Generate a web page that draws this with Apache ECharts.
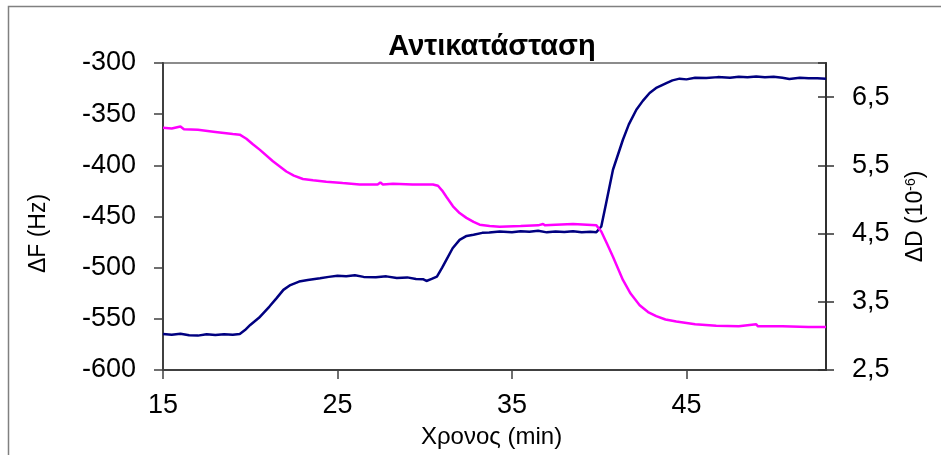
<!DOCTYPE html>
<html>
<head>
<meta charset="utf-8">
<script src="https://cdn.jsdelivr.net/npm/echarts@6/dist/echarts.min.js"></script>
<style>
  html, body { margin: 0; padding: 0; background: #fff; }
  #chart { width: 941px; height: 455px; }
</style>
</head>
<body>
<div id="chart"></div>
<script>
// ΔF (Hz), left axis
const timeF = [15, 15.5, 16, 16.5, 17, 17.5, 18, 18.5, 19, 19.4, 19.7, 20, 20.5, 21.1, 21.5, 21.9, 22.3, 22.8, 23.3, 24,
    24.5, 25, 25.5, 26, 26.5, 27.2, 27.8, 28.4, 29, 29.5, 29.9, 30.1, 30.4, 30.7, 31, 31.24, 31.6, 32, 32.4, 32.8,
    33.3, 33.7, 34.3, 35, 35.5, 36, 36.5, 37, 37.5, 38, 38.5, 39, 39.5, 39.84, 40.12, 40.4, 40.79, 41.36, 41.7, 42.13,
    42.5, 42.89, 43.3, 43.85, 44.2, 44.61, 45, 45.5, 46.14, 46.8, 47.5, 48, 48.5, 49, 49.5, 50, 50.5, 50.9, 51.5, 52,
    52.5, 53]
const valF = [-564.8, -565.5, -564.5, -566, -566.4, -565, -565.8, -565, -565.6, -564.8, -561, -556, -549, -538, -530, -521.7, -517, -513.6, -512, -510.3,
    -509, -507.8, -508.5, -507.5, -509, -509.3, -508.5, -510, -509.5, -511, -511.3, -513, -511, -508.7, -500, -492.4, -481, -472.8, -469, -467.9,
    -466, -465.7, -464.7, -465.5, -464.5, -465, -464, -465.5, -464.7, -465.2, -464.5, -465.5, -465, -465.3, -459.8, -436.9, -404.3, -375, -360, -345.7,
    -337, -329.3, -324, -319.6, -317, -315.3, -316, -314.5, -314.7, -313.8, -314.5, -313.5, -314, -313.1, -314, -313.5, -314.5, -315.6, -314.5, -315,
    -314.8, -315.3]

// ΔD (10^-6), right axis
const timeD = [15, 15.5, 16, 16.2, 17, 18, 19, 19.4, 19.78, 20.15, 20.54, 21.3, 22.07, 22.5, 23.02, 23.6, 24.36, 25.3, 26.27, 27.3,
    27.46, 27.6, 28.18, 29.3, 30.47, 30.76, 31, 31.24, 31.62, 32, 32.39, 32.8, 33.15, 33.72, 34.3, 35.5, 36.5, 36.78, 36.9, 37.5,
    38.5, 39.3, 39.84, 40.12, 40.45, 40.79, 41.36, 41.8, 42.32, 42.8, 43.27, 43.8, 44.42, 45.5, 46.71, 48, 49, 49.1, 50.5, 52, 53]
const valD = [6.05, 6.04, 6.07, 6.03, 6.02, 5.99, 5.96, 5.95, 5.89, 5.81, 5.73, 5.56, 5.41, 5.35, 5.30, 5.28, 5.26, 5.24, 5.22, 5.22,
    5.25, 5.22, 5.23, 5.22, 5.22, 5.20, 5.13, 5.04, 4.90, 4.80, 4.73, 4.67, 4.63, 4.61, 4.60, 4.61, 4.62, 4.64, 4.62, 4.63,
    4.64, 4.63, 4.62, 4.53, 4.35, 4.16, 3.82, 3.62, 3.45, 3.35, 3.29, 3.24, 3.21, 3.17, 3.15, 3.14, 3.17, 3.14, 3.14, 3.13, 3.13]

const FONT = "'Liberation Sans', Arial, sans-serif"

let myChart = echarts.init(document.getElementById("chart"))
let option = {
    animation: false,
    backgroundColor: "#fff",
    title: {
        text: "Αντικατάσταση",
        left: 487,
        top: 27,
        textAlign: "center",
        textStyle: { fontFamily: FONT, fontSize: 29, fontWeight: "bold", color: "#000" }
    },
    graphic: [
        {
            type: "rect",
            shape: { x: 8.5, y: 6.5, width: 960, height: 480 },
            style: { fill: "none", stroke: "#808080", lineWidth: 1.5 },
            silent: true
        }
    ],
    grid: {
        left: 163,
        top: 63,
        width: 663,
        height: 307,
        show: true,
        borderColor: "#8c8c8c",
        borderWidth: 2,
        backgroundColor: "transparent"
    },
    xAxis: {
        type: "value",
        min: 15,
        max: 53,
        interval: 10,
        name: "Χρονος (min)",
        nameLocation: "middle",
        nameGap: 55,
        nameTextStyle: { fontFamily: FONT, fontSize: 24, color: "#000", padding: [0, 6, 0, 0] },
        axisLine: { lineStyle: { color: "#404040", width: 2 } },
        axisTick: { length: 9, lineStyle: { color: "#404040", width: 1.5 } },
        axisLabel: { fontFamily: FONT, fontSize: 27, color: "#000", margin: 22, showMaxLabel: false },
        splitLine: { show: false }
    },
    yAxis: [
        {
            type: "value",
            position: "left",
            min: -600,
            max: -300,
            interval: 50,
            name: "ΔF (Hz)",
            nameLocation: "middle",
            nameGap: 113,
            nameTextStyle: { fontFamily: FONT, fontSize: 23, color: "#000", padding: [0, 34, 0, 0] },
            axisLine: { show: true, lineStyle: { color: "#404040", width: 2 } },
            axisTick: { show: true, length: 9, lineStyle: { color: "#404040", width: 1.5 } },
            axisLabel: { fontFamily: FONT, fontSize: 27, color: "#000", margin: 27 },
            splitLine: { show: false }
        },
        {
            type: "value",
            position: "right",
            min: 2.5,
            max: 7,
            interval: 1,
            name: "ΔD (10{sup|-6})",
            nameLocation: "middle",
            nameGap: 78,
            nameTextStyle: {
                fontFamily: FONT, fontSize: 23, color: "#000",
                rich: { sup: { fontFamily: FONT, fontSize: 14, color: "#000", verticalAlign: "top", padding: [0, 0, 10, 0] } }
            },
            axisLine: { show: true, lineStyle: { color: "#303030", width: 2 } },
            axisTick: { show: true, length: 8, lineStyle: { color: "#303030", width: 1.5 } },
            axisLabel: {
                fontFamily: FONT, fontSize: 27, color: "#000", margin: 26, showMaxLabel: false,
                formatter: v => v.toFixed(1).replace(".", ",")
            },
            splitLine: { show: false }
        },
        {
            // inner half of the crossing ticks on the right axis
            type: "value",
            position: "right",
            min: 2.5,
            max: 7,
            interval: 1,
            axisLine: { show: false },
            axisTick: { show: true, inside: true, length: 8, lineStyle: { color: "#303030", width: 1.5 } },
            axisLabel: { show: false },
            splitLine: { show: false }
        }
    ],
    series: [
        {
            name: "ΔF",
            type: "line",
            yAxisIndex: 0,
            showSymbol: false,
            data: timeF.map((t, i) => [t, valF[i]]),
            lineStyle: { color: "#000080", width: 2.5 },
            itemStyle: { color: "#000080" }
        },
        {
            name: "ΔD",
            type: "line",
            yAxisIndex: 1,
            showSymbol: false,
            data: timeD.map((t, i) => [t, valD[i]]),
            lineStyle: { color: "#ff00ff", width: 2.5 },
            itemStyle: { color: "#ff00ff" }
        }
    ]
}
myChart.setOption(option)
</script>
</body>
</html>
